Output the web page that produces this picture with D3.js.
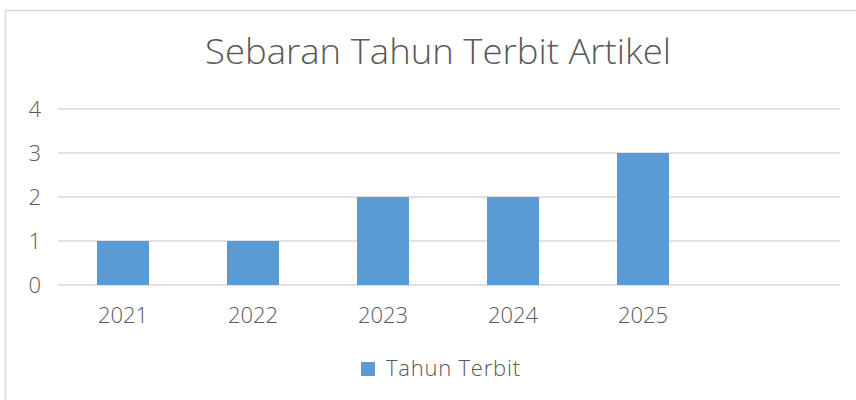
<!DOCTYPE html>
<html>
<head>
<meta charset="utf-8">
<script src="https://cdn.jsdelivr.net/npm/d3@7"></script>
<style>
  body { margin: 0; background: #fff; }
  text { font-family: "Open Sans", Roboto, sans-serif; font-weight: 300; }
</style>
</head>
<body>
<div id="chart"></div>
<script>
// chart data
let categories = ["2021", "2022", "2023", "2024", "2025", ""]
let values = [1, 1, 2, 2, 3, null]
let yTicks = [0, 1, 2, 3, 4]
let seriesName = "Tahun Terbit"
let title = "Sebaran Tahun Terbit Artikel"

let width = 856, height = 400
let margin = { top: 109, right: 16, bottom: 115, left: 58 }

let svg = d3.select("#chart").append("svg")
    .attr("width", width)
    .attr("height", height)

// outer chart border
svg.append("rect")
    .attr("x", 5.5)
    .attr("y", 10.5)
    .attr("width", width + 10)
    .attr("height", height + 10)
    .attr("fill", "#fff")
    .attr("stroke", "#d9d9d9")
    .attr("stroke-width", 1.5)

let x = d3.scaleBand()
    .domain(d3.range(categories.length))
    .range([margin.left, width - margin.right - 2])
    .paddingInner(0.6)
    .paddingOuter(0.3)

let y = d3.scaleLinear()
    .domain([0, 4])
    .range([height - margin.bottom, margin.top])

svg.append("text")
    .attr("x", 438)
    .attr("y", 64)
    .attr("text-anchor", "middle")
    .attr("fill", "#595959")
    .attr("textLength", 466)
    .attr("lengthAdjust", "spacingAndGlyphs")
    .style("font-size", "35px")
    .text(title)

// gridlines
svg.append("g").selectAll("line")
    .data(yTicks)
    .enter()
    .append("line")
    .attr("x1", margin.left)
    .attr("x2", width - margin.right)
    .attr("y1", d => y(d))
    .attr("y2", d => y(d))
    .attr("stroke", "#d9d9d9")
    .attr("stroke-width", 1.5)

// y labels
svg.append("g").selectAll("text")
    .data(yTicks)
    .enter()
    .append("text")
    .attr("x", 41)
    .attr("y", d => y(d))
    .attr("dy", "0.36em")
    .attr("text-anchor", "end")
    .attr("fill", "#595959")
    .style("font-size", "22px")
    .text(d => d)

// bars
svg.append("g").selectAll("rect")
    .data(values.map((v, i) => ({ v: v, i: i })).filter(d => d.v != null))
    .enter()
    .append("rect")
    .attr("x", d => x(d.i))
    .attr("width", x.bandwidth())
    .attr("y", d => y(d.v))
    .attr("height", d => y(0) - y(d.v))
    .attr("fill", "#5b9bd5")

// x labels
svg.append("g").selectAll("text")
    .data(categories)
    .enter()
    .append("text")
    .attr("x", (d, i) => x(i) + x.bandwidth() / 2)
    .attr("y", 323)
    .attr("text-anchor", "middle")
    .attr("fill", "#595959")
    .style("font-size", "22px")
    .text(d => d)

// legend
svg.append("rect")
    .attr("x", 361)
    .attr("y", 362)
    .attr("width", 14)
    .attr("height", 14)
    .attr("fill", "#5b9bd5")
svg.append("text")
    .attr("x", 386)
    .attr("y", 376)
    .attr("fill", "#595959")
    .attr("textLength", 134)
    .attr("lengthAdjust", "spacing")
    .style("font-size", "22px")
    .text(seriesName)
</script>
</body>
</html>
